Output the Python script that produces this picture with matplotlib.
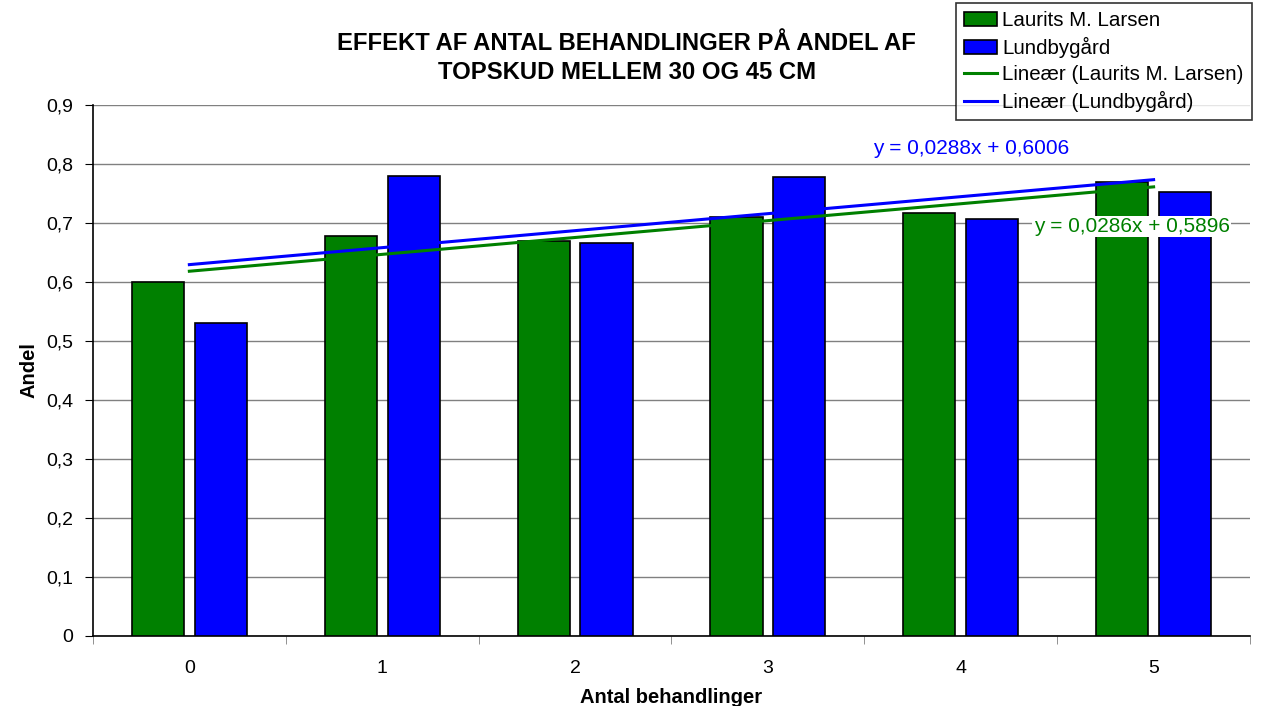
import numpy as np
from matplotlib import pyplot as plt

plt.rcParams['font.family'] = ['Liberation Sans', 'DejaVu Sans']

behandlinger = [0, 1, 2, 3, 4, 5]
laurits = [0.600, 0.678, 0.669, 0.710, 0.717, 0.769]
lundby = [0.530, 0.780, 0.666, 0.778, 0.707, 0.753]

# trendlinjer (Excel: x = 1..6)
laurits_fit = (0.0286, 0.5896)
lundby_fit = (0.0288, 0.6006)
yticks = [0, 0.1, 0.2, 0.3, 0.4, 0.5, 0.6, 0.7, 0.8, 0.9]

fig = plt.figure(figsize=(12.61, 7.06), dpi=100)
ax = fig.add_axes([0.0737, 0.0992, 0.9176, 0.7521])

x = np.arange(len(behandlinger))
w = 0.27
off = 0.163
b1 = ax.bar(x - off, laurits, w, color='#008000', edgecolor='black', linewidth=1.2,
            label='Laurits M. Larsen', zorder=3)
b2 = ax.bar(x + off, lundby, w, color='#0000ff', edgecolor='black', linewidth=1.2,
            label='Lundbygård', zorder=3)

l1, = ax.plot(x, laurits_fit[0] * (x + 1) + laurits_fit[1], color='#008000', lw=2.2,
              label='Lineær (Laurits M. Larsen)', zorder=4)
l2, = ax.plot(x, lundby_fit[0] * (x + 1) + lundby_fit[1], color='#0000ff', lw=2.2,
              label='Lineær (Lundbygård)', zorder=4)

ax.text(4.056, 0.826, 'y = 0,0288x + 0,6006', color='#0000ff', fontsize=15,
        ha='center', va='center', zorder=5)
ax.text(4.886, 0.694, 'y = 0,0286x + 0,5896', color='#008000', fontsize=15,
        ha='center', va='center', zorder=5,
        bbox=dict(facecolor='white', edgecolor='none', pad=1))

ax.set_xlim(-0.5, len(behandlinger) - 0.5)
ax.set_ylim(0, 0.9)
ax.set_yticks(yticks)
ax.set_yticklabels([('%g' % v).replace('.', ',') for v in yticks], fontsize=14)
ax.set_xticks(x)
ax.set_xticklabels([str(b) for b in behandlinger], fontsize=14)
ax.set_xticks(np.arange(-0.5, len(behandlinger), 1), minor=True)
ax.tick_params(axis='x', which='major', length=0, pad=17)
ax.tick_params(axis='x', which='minor', length=6, color='#808080')
ax.tick_params(axis='y', length=6, pad=8)

ax.grid(axis='y', color='#808080', lw=1, zorder=0)
for s in ['top', 'right']:
    ax.spines[s].set_visible(False)
ax.spines['left'].set_linewidth(1.2)
ax.spines['bottom'].set_linewidth(1.2)

ax.set_ylabel('Andel', fontsize=14.5, fontweight='bold', labelpad=6)
ax.set_xlabel('Antal behandlinger', fontsize=14.5, fontweight='bold', labelpad=8)

fig.text(0.497, 0.918, 'EFFEKT AF ANTAL BEHANDLINGER PÅ ANDEL AF\nTOPSKUD MELLEM 30 OG 45 CM',
         ha='center', va='center', fontsize=17.2, fontweight='bold', linespacing=1.35)

leg = fig.legend(handles=[b1, b2, l1, l2], loc='upper left',
                 bbox_to_anchor=(0.758, 0.996), fontsize=14.8,
                 frameon=True, fancybox=False, shadow=False, borderpad=0.4,
                 labelspacing=0.34, handlelength=1.6, handletextpad=0.25,
                 borderaxespad=0)
leg.get_frame().set_edgecolor('black')
leg.get_frame().set_linewidth(1.2)

fig.savefig('out.png', dpi=100)
